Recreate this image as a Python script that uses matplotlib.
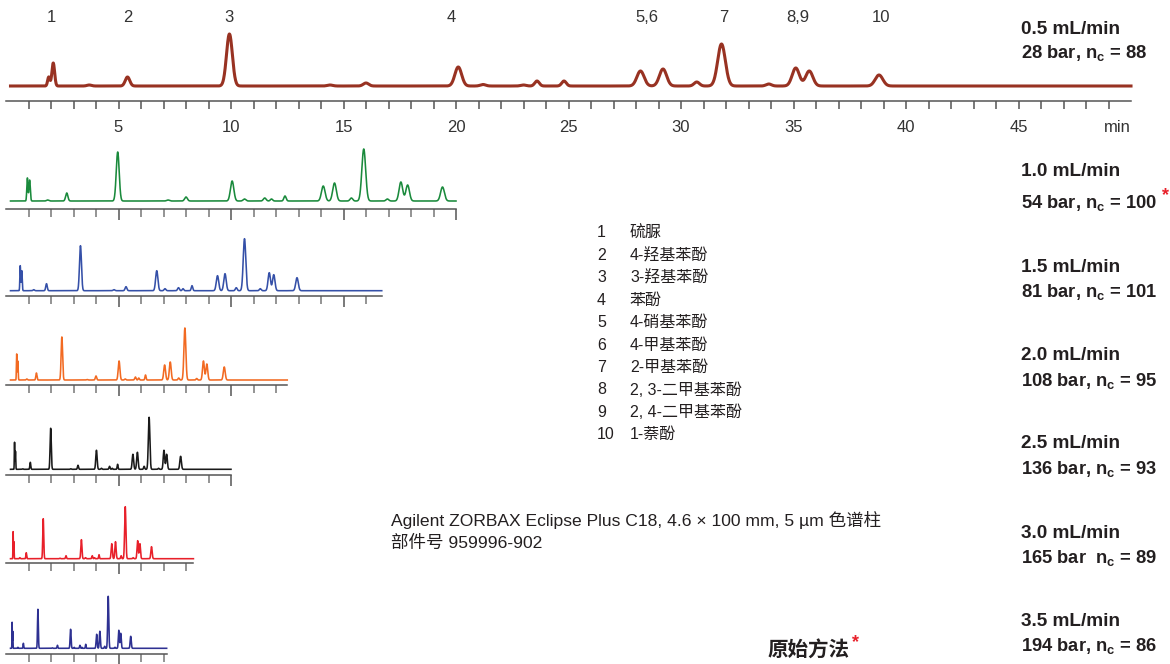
import numpy as np
import matplotlib
matplotlib.use("Agg")
import matplotlib.pyplot as plt
from matplotlib import font_manager

# ---------------------------------------------------------------------------
# Data: peaks are listed by retention time at 0.5 mL/min; at higher flow the
# same peaks elute at t * 0.5 / flow.
# ---------------------------------------------------------------------------
rt_ref = [1.9, 2.1, 3.7, 5.4, 9.93, 14.4, 16.0, 20.1, 21.2, 23.0,
          23.6, 24.8, 28.2, 29.2, 30.7, 31.8, 33.9, 35.1, 35.7, 38.8]
sigma_ref = [0.05, 0.06, 0.10, 0.10, 0.13, 0.12, 0.12, 0.15, 0.12, 0.12,
             0.10, 0.10, 0.16, 0.16, 0.12, 0.17, 0.12, 0.16, 0.16, 0.17]

flows = [0.5, 1.0, 1.5, 2.0, 2.5, 3.0, 3.5]
pressures = [28, 54, 81, 108, 136, 165, 194]
peak_capacity = [88, 100, 101, 95, 93, 89, 86]
run_end = [50, 20, 16.7, 12.5, 10, 8.33, 7.14]

heights_05 = [9, 23, 1, 9, 52, 1, 3, 19, 1.5, 1, 5, 5, 15, 17, 4, 42, 2, 18, 15, 11]
heights_10 = [23, 21, 1, 8, 49, 1, 4, 20, 2, 3, 2, 5, 15, 18, 3, 52, 2, 19, 16, 14]
heights_15 = [25, 20, 1, 7, 45, 1, 4, 20, 2, 3, 2, 5, 15, 17, 3, 52, 2, 18, 16, 13]
heights_20 = [26, 19, 1, 7, 43, 0.5, 4, 19, 1, 3, 2, 5, 15, 18, 2, 52, 1.5, 19, 16, 13]
heights_25 = [27, 18, 0.5, 7, 41, 0.5, 4, 19, 1, 3, 1, 5, 15, 17, 3, 52, 1, 19, 15, 13]
heights_30 = [27, 17, 1, 6, 40, 0.5, 3, 19, 1, 3, 1, 4, 15, 17, 3, 52, 1, 18, 15, 12]
heights_35 = [26, 17, 1, 5, 39, 0.5, 3, 19, 1, 3, 1, 4, 14, 17, 2, 52, 1, 18, 15, 12]
all_heights = [heights_05, heights_10, heights_15, heights_20,
               heights_25, heights_30, heights_35]

colors = ["#983222", "#1a8a3c", "#3550a8", "#f26a22", "#1a1a1a", "#e8202a", "#2e3192"]

peak_labels = ["1", "2", "3", "4", "5,6", "7", "8,9", "10"]
peak_label_times = [2.0, 5.4, 9.9, 19.8, 28.5, 31.9, 35.2, 38.9]

compound_ids = ["1", "2", "3", "4", "5", "6", "7", "8", "9", "10"]
compound_names = ["硫脲", "4-羟基苯酚", "3-羟基苯酚", "苯酚", "4-硝基苯酚",
                  "4-甲基苯酚", "2-甲基苯酚", "2, 3-二甲基苯酚", "2, 4-二甲基苯酚", "1-萘酚"]

# ---------------------------------------------------------------------------
# Fonts
# ---------------------------------------------------------------------------
available = {f.name for f in font_manager.fontManager.ttflist}
latin = "Liberation Sans Narrow" if "Liberation Sans Narrow" in available else "Liberation Sans"
plt.rcParams["font.family"] = [latin, "Noto Sans CJK SC", "DejaVu Sans"]
plt.rcParams["mathtext.fontset"] = "custom"
plt.rcParams["mathtext.rm"] = latin
plt.rcParams["mathtext.bf"] = latin + ":bold"

W, H = 1170, 664
fig = plt.figure(figsize=(W / 100, H / 100), dpi=100)

X0 = 6.0          # pixel column of t = 0
PX_PER_MIN = 22.5

# spine row, baseline row, axes height (all in pixels from the top)
spine_rows = [100.7, 209, 295.7, 385, 475, 563.3, 654]
base_rows = [86, 201, 290.7, 380, 469.3, 558.7, 648.3]
panel_px = [90, 75, 75, 75, 75, 75, 75]


def trace(t, flow, heights):
    scale = 0.5 / flow
    y = np.zeros_like(t)
    for r, s, h in zip(rt_ref, sigma_ref, heights):
        y += h * np.exp(-0.5 * ((t - r * scale) / (s * scale)) ** 2)
    return y


for i, flow in enumerate(flows):
    t_end = run_end[i]
    gap = spine_rows[i] - base_rows[i]
    ax = fig.add_axes([X0 / W, (H - spine_rows[i]) / H,
                       t_end * PX_PER_MIN / W, panel_px[i] / H])
    ax.patch.set_visible(False)
    ax.set_xlim(0, t_end)
    ax.set_ylim(-gap, panel_px[i] - gap)

    t = np.linspace(0.2, t_end, 6000)
    lw = 2.2 if i == 0 else 1.15
    ax.plot(t, trace(t, flow, all_heights[i]), color=colors[i], lw=lw,
            solid_joinstyle="round", clip_on=False)

    for side in ["top", "right", "left"]:
        ax.spines[side].set_visible(False)
    ax.spines["bottom"].set_color("#555555")
    ax.spines["bottom"].set_linewidth(1.1)
    ax.set_yticks([])

    if i == 0:
        majors = np.arange(5, t_end - 0.01, 5)
        minors = np.arange(1, t_end - 0.01, 1)
        ax.set_xticks(majors)
        ax.set_xticks(minors, minor=True)
        ax.tick_params(axis="x", which="both", length=6, width=1.1,
                       color="#555555", labelsize=12, labelcolor="#333333", pad=8)
        ax.set_xticklabels([f"{v:g}" for v in majors])
        ax.text(49.4, -(127 - base_rows[0]), "min", ha="center", va="center",
                fontsize=12, color="#333333", clip_on=False)
        for lab, tl in zip(peak_labels, peak_label_times):
            ax.text(tl, base_rows[0] - 17, lab, ha="center", va="center",
                    fontsize=12, color="#333333", clip_on=False)
    else:
        majors = np.arange(5, t_end + 0.01, 5)
        minors = np.arange(1, t_end + 0.01, 1)
        ax.set_xticks(majors)
        ax.set_xticks(minors, minor=True)
        ax.tick_params(axis="x", which="major", length=8, width=1.1,
                       color="#555555", labelbottom=False)
        ax.tick_params(axis="x", which="minor", length=6, width=1.1,
                       color="#777777")


def ftext(x, y, s, **kw):
    fig.text(x / W, 1 - y / H, s, va="center", **kw)


# flow / pressure / peak capacity annotations
label_rows = [(29, 53), (172, 203), (267, 292), (356, 381),
              (444, 469), (533, 558), (621, 646)]
for i, flow in enumerate(flows):
    r1, r2 = label_rows[i]
    sep = "  " if flow == 3.0 else ", "
    ftext(1021, r1, f"{flow:.1f} mL/min", fontsize=13.7, fontweight="bold", color="#231f20")
    ftext(1021, r2, f"{pressures[i]} bar{sep}n$_\\mathbf{{c}}$ = {peak_capacity[i]}",
          fontsize=13.2, fontweight="bold", color="#231f20")
ftext(1162, 196, "*", fontsize=13, fontweight="bold", color="#e8202a")

# compound legend
for k, (cid, name) in enumerate(zip(compound_ids, compound_names)):
    y = 233 + k * 22.4
    ftext(597, y, cid, fontsize=11.5, color="#231f20")
    ftext(630, y, name, fontsize=11.5, color="#231f20")

ftext(391, 520, "Agilent ZORBAX Eclipse Plus C18, 4.6 × 100 mm, 5 µm 色谱柱",
      fontsize=12.6, color="#231f20")
ftext(391, 543, "部件号 959996-902", fontsize=12.6, color="#231f20")

ftext(768, 651, "原始方法", fontsize=14.8, fontweight="bold", color="#231f20")
ftext(852, 643, "*", fontsize=13, fontweight="bold", color="#e8202a")

fig.savefig("out.png", dpi=100)
